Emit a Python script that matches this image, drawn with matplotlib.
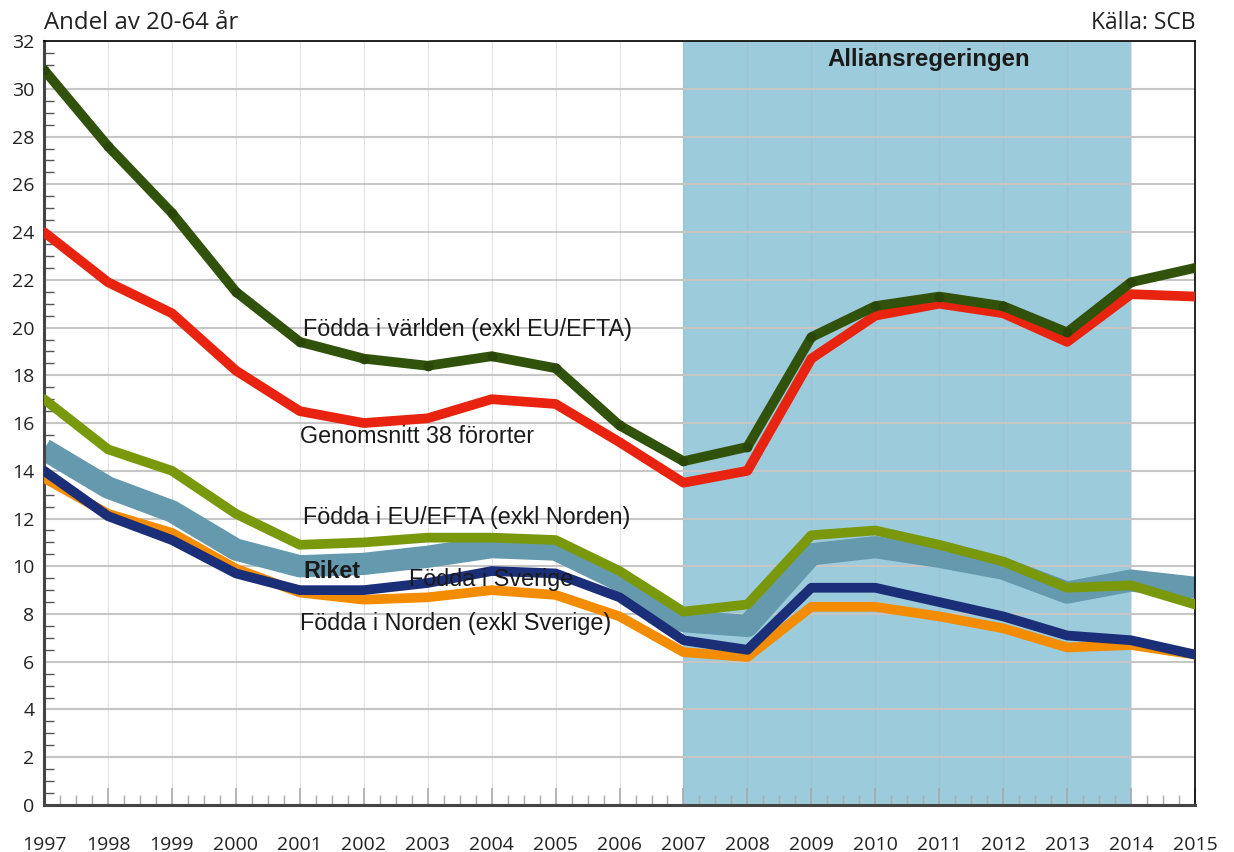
import matplotlib.pyplot as plt
from matplotlib.ticker import MultipleLocator

# Andel av 20-64 år per grupp, 1997-2015
years = list(range(1997, 2016))
varlden = [30.8, 27.6, 24.8, 21.5, 19.4, 18.7, 18.4, 18.8, 18.3, 15.9, 14.4,
           15.0, 19.6, 20.9, 21.3, 20.9, 19.8, 21.9, 22.5]
genomsnitt = [24.0, 21.9, 20.6, 18.2, 16.5, 16.0, 16.2, 17.0, 16.8, 15.2, 13.5,
              14.0, 18.7, 20.5, 21.0, 20.6, 19.4, 21.4, 21.3]
eu_efta = [17.0, 14.9, 14.0, 12.2, 10.9, 11.0, 11.2, 11.2, 11.1, 9.8, 8.1,
           8.4, 11.3, 11.5, 10.9, 10.2, 9.1, 9.2, 8.4]
riket = [14.9, 13.3, 12.3, 10.7, 10.0, 10.1, 10.4, 10.8, 10.7, 9.4, 7.7,
         7.5, 10.5, 10.8, 10.4, 9.9, 8.9, 9.4, 9.1]
sverige = [14.0, 12.1, 11.1, 9.7, 9.0, 9.0, 9.3, 9.8, 9.7, 8.7, 6.9,
           6.5, 9.1, 9.1, 8.5, 7.9, 7.1, 6.9, 6.3]
norden = [13.7, 12.2, 11.4, 9.9, 8.9, 8.6, 8.7, 9.0, 8.8, 7.9, 6.4,
          6.2, 8.3, 8.3, 7.9, 7.4, 6.6, 6.7, 6.3]

fig = plt.figure(figsize=(12.34, 8.52), dpi=100)
ax = fig.add_axes([0.0357, 0.0552, 0.9327, 0.8965])

ax.axvspan(2007, 2014, color='#9ccbdc', zorder=0.2, lw=0)

line_kw = dict(solid_capstyle='round', solid_joinstyle='round')
ax.plot(years, riket, color='#6599ae', lw=16, zorder=2, solid_capstyle='butt', solid_joinstyle='round')
ax.plot(years, norden, color='#f48c00', lw=7, zorder=3, **line_kw)
ax.plot(years, sverige, color='#1b2e78', lw=7, zorder=4, **line_kw)
ax.plot(years, eu_efta, color='#7a980c', lw=7, zorder=5, **line_kw)
ax.plot(years, genomsnitt, color='#e8230f', lw=7, zorder=6, **line_kw)
ax.plot(years, varlden, color='#31520a', lw=7, zorder=7, marker='o', ms=6,
        mfc='#2a4608', mec='#2a4608', **line_kw)

ax.set_xlim(1997, 2015)
ax.set_ylim(0, 32)
ax.xaxis.set_minor_locator(MultipleLocator(0.25))
ax.yaxis.set_major_locator(MultipleLocator(2))
ax.yaxis.set_minor_locator(MultipleLocator(0.5))
ax.set_xticks(years)
ax.set_xticklabels([str(y) for y in years], fontfamily='Open Sans', fontsize=14, color='#222222')
for lab in ax.get_yticklabels():
    lab.set_fontfamily('Open Sans')
ax.tick_params(axis='y', which='major', direction='in', length=0, labelsize=14,
               labelcolor='#222222', pad=7)
ax.tick_params(axis='y', which='minor', direction='in', length=7, color='#555555', width=1)
ax.tick_params(axis='x', which='major', direction='in', length=12, color='#aaaaaa',
               width=1.2, pad=22)
ax.tick_params(axis='x', which='minor', direction='in', length=7, color='#aaaaaa', width=1)

ax.grid(axis='y', which='major', color='#c6c6c6', lw=1.5, zorder=0.5)
ax.grid(axis='x', which='major', color='#b0b0b0', lw=0.8, alpha=0.35, zorder=0.5)
ax.set_axisbelow(True)

ax.spines['left'].set_linewidth(2.2)
ax.spines['left'].set_color('#444444')
ax.spines['bottom'].set_linewidth(2.2)
ax.spines['bottom'].set_color('#444444')
ax.spines['top'].set_linewidth(1.2)
ax.spines['right'].set_linewidth(1.2)

ax.text(0.0, 1.008, 'Andel av 20-64 år', transform=ax.transAxes, ha='left', va='bottom',
        fontfamily='Open Sans', fontsize=17.3, color='#222222')
ax.text(1.0, 1.008, 'Källa: SCB', transform=ax.transAxes, ha='right', va='bottom',
        fontfamily='Open Sans', fontsize=16.5, color='#222222')

lab_kw = dict(fontfamily='Liberation Sans', fontsize=16.8, color='#1a1a1a', zorder=9)
ax.text(2010.83, 31.25, 'Alliansregeringen', ha='center', va='center',
        fontfamily='Liberation Sans', fontsize=17.3, fontweight='bold', color='#1a1a1a')
ax.text(2001.05, 19.9, 'Födda i världen (exkl EU/EFTA)', ha='left', va='center', **lab_kw)
ax.text(2001.0, 15.45, 'Genomsnitt 38 förorter', ha='left', va='center', **lab_kw)
ax.text(2001.05, 12.05, 'Födda i EU/EFTA (exkl Norden)', ha='left', va='center', **lab_kw)
ax.text(2001.05, 9.8, 'Riket', ha='left', va='center', fontfamily='Liberation Sans',
        fontsize=16.8, fontweight='bold', color='#1a1a1a', zorder=9)
ax.text(2002.7, 9.45, 'Födda i Sverige', ha='left', va='center', **lab_kw)
ax.text(2001.0, 7.6, 'Födda i Norden (exkl Sverige)', ha='left', va='center', **lab_kw)

fig.savefig('out.png', dpi=100)
